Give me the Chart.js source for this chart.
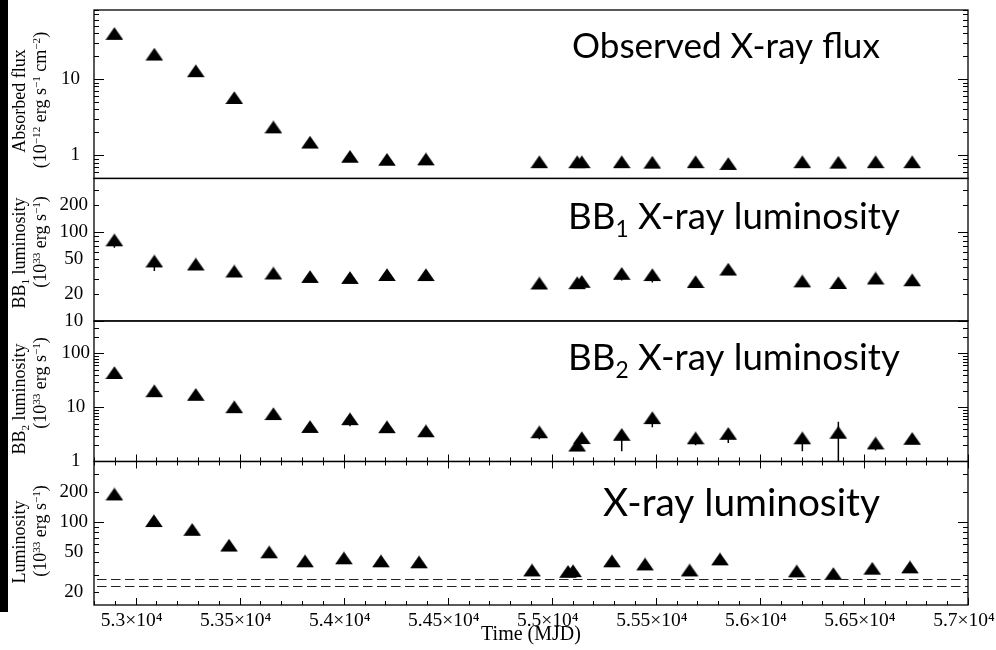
<!DOCTYPE html>
<html>
<head>
<meta charset="utf-8">
<script src="https://cdn.jsdelivr.net/npm/chart.js@4/dist/chart.umd.min.js"></script>
<style>
  html, body { margin: 0; padding: 0; background: #fff; overflow: hidden; }
  canvas { display: block; }
</style>
</head>
<body>
<canvas id="c" width="996" height="650"></canvas>
<script>
// Observation epochs (MJD) of the spectral fits
const epochs = [52898, 53090, 53289, 53474, 53662, 53838, 54030, 54208, 54395, 54940,
                55122, 55144, 55336, 55483, 55691, 55848, 56204, 56377, 56556, 56732];
// Epochs used for the total luminosity curve
const lumEpochs = [52898, 53088, 53272, 53449, 53642, 53814, 54001, 54179, 54362, 54905,
                   55078, 55102, 55289, 55448, 55662, 55808, 56177, 56353, 56540, 56721];

// Absorbed flux, 1e-12 erg/s/cm^2
const absorbedFlux = [37.3, 20.0, 12.1, 5.4, 2.23, 1.41, 0.92, 0.84, 0.85, 0.78,
                      0.78, 0.78, 0.78, 0.77, 0.78, 0.74, 0.78, 0.77, 0.78, 0.78];
// Blackbody 1 luminosity, 1e33 erg/s
const bb1Lum = [77.6, 44.9, 41.5, 34.6, 32.9, 30.1, 29.3, 31.6, 31.6, 25.4,
                25.6, 26.5, 32.6, 31.6, 26.4, 36.4, 26.8, 25.7, 28.9, 27.6];
const bb1Low = [66.7, 36.5, null, null, null, null, null, null, null, null,
                null, null, 28.5, 27.0, null, null, null, null, null, null];
// Blackbody 2 luminosity, 1e33 erg/s
const bb2Lum = [40.8, 18.8, 16.1, 9.5, 7.1, 4.1, 5.7, 4.05, 3.41, 3.27,
                1.85, 2.55, 2.93, 5.97, 2.52, 3.06, 2.52, 3.2, 2.03, 2.47];
const bb2Low = [null, null, null, null, null, null, 4.5, null, null, 2.58,
                null, null, 1.54, 4.32, 1.99, 2.2, 1.54, 0.5, 1.6, null];
const bb2High = [null, null, null, null, null, null, null, null, null, null,
                 null, null, null, null, null, null, null, 5.43, null, null];
// Total X-ray luminosity, 1e33 erg/s
const xrayLum = [182, 99, 81, 56.5, 48.4, 39.4, 42.2, 39.4, 38.5, 32,
                 31, 31.5, 39.4, 36.7, 32, 41.2, 31.3, 29.5, 33.3, 34.3];
// Reference luminosity levels (dashed)
const lumLevels = [27, 23];

// Axis ticks
const timeTicks = [53000, 53500, 54000, 54500, 55000, 55500, 56000, 56500, 57000];
const timeTickLabels = ['5.3×10⁴', '5.35×10⁴', '5.4×10⁴', '5.45×10⁴', '5.5×10⁴',
                        '5.55×10⁴', '5.6×10⁴', '5.65×10⁴', '5.7×10⁴'];
const fluxTicks = [1, 10];
const bb1Ticks = [10, 20, 50, 100, 200];
const bb2Ticks = [1, 10, 100];
const lumTicks = [20, 50, 100, 200];

const SERIF = '"Liberation Serif", "Times New Roman", serif';
const SANS = 'Lato, "Open Sans", sans-serif';

// filled triangle marker, centroid at the image centre
function triangleMarker() {
  const c = document.createElement('canvas');
  c.width = 18; c.height = 17;
  const g = c.getContext('2d');
  g.fillStyle = '#000';
  g.beginPath();
  g.moveTo(9, 0.3); g.lineTo(17.8, 13.0); g.lineTo(0.2, 13.0);
  g.closePath(); g.fill();
  return c;
}
const marker = triangleMarker();

function pts(xs, ys) { return xs.map((x, i) => ({ x: x, y: ys[i] })); }

// text with super/subscripts: parts = [text, mode] (1 = sup, -1 = sub)
function richWidth(ctx, parts, size, family) {
  let w = 0;
  for (const [t, m] of parts) {
    ctx.font = (m ? size * 0.62 : size) + 'px ' + family;
    w += ctx.measureText(t).width;
  }
  return w;
}
function drawRich(ctx, parts, x, y, size, family) {
  let cx = x;
  for (const [t, m] of parts) {
    const s = m ? size * 0.62 : size;
    ctx.font = s + 'px ' + family;
    const dy = m === 1 ? -size * 0.36 : (m === -1 ? size * 0.22 : 0);
    ctx.fillText(t, cx, y + dy);
    cx += ctx.measureText(t).width;
  }
}

const unitsLum = [['(10', 0], ['33', 1], [' erg s', 0], ['−1', 1], [')', 0]];
const axisTitles = [
  { axis: 'yFlux', lines: [[['Absorbed flux', 0]],
      [['(10', 0], ['−12', 1], [' erg s', 0], ['−1', 1], [' cm', 0], ['−2', 1], [')', 0]]], cy: [101, 100] },
  { axis: 'yBB1', lines: [[['BB', 0], ['1', -1], [' luminosity', 0]], unitsLum], cy: [253, 242] },
  { axis: 'yBB2', lines: [[['BB', 0], ['2', -1], [' luminosity', 0]], unitsLum], cy: [399, 383] },
  { axis: 'yLum', lines: [[['Luminosity', 0]], unitsLum], cy: [542, 531] }
];
const panelTitles = [
  { parts: [['Observed X-ray flux', 0]], left: 572, width: 308, base: 58 },
  { parts: [['BB', 0], ['1', -1], [' X-ray luminosity', 0]], left: 568, width: 332, base: 229 },
  { parts: [['BB', 0], ['2', -1], [' X-ray luminosity', 0]], left: 568, width: 332, base: 370 },
  { parts: [['X-ray luminosity', 0]], left: 603, width: 277, base: 516 }
];
const panelIds = ['yFlux', 'yBB1', 'yBB2', 'yLum'];

const decor = {
  id: 'decor',
  beforeDraw(chart) {
    const ctx = chart.ctx;
    ctx.save();
    ctx.fillStyle = '#fff';
    ctx.fillRect(0, 0, chart.width, chart.height);
    ctx.fillStyle = '#000';
    ctx.fillRect(0, 0, 8, 612);
    ctx.restore();
  },
  beforeDatasetsDraw(chart) {
    // error bars
    const ctx = chart.ctx, xs = chart.scales.x;
    const bars = [
      { s: chart.scales.yBB1, lo: bb1Low, hi: null, val: bb1Lum },
      { s: chart.scales.yBB2, lo: bb2Low, hi: bb2High, val: bb2Lum }
    ];
    ctx.save();
    ctx.strokeStyle = '#000';
    ctx.lineWidth = 1.5;
    for (const b of bars) {
      ctx.save();
      ctx.beginPath();
      ctx.rect(xs.left, b.s.top, xs.right - xs.left, b.s.bottom - b.s.top);
      ctx.clip();
      epochs.forEach((t, i) => {
        const px = xs.getPixelForValue(t);
        const y0 = b.s.getPixelForValue(b.val[i]);
        ctx.beginPath();
        if (b.lo && b.lo[i] != null) { ctx.moveTo(px, y0); ctx.lineTo(px, b.s.getPixelForValue(b.lo[i])); }
        if (b.hi && b.hi[i] != null) { ctx.moveTo(px, y0); ctx.lineTo(px, b.s.getPixelForValue(b.hi[i])); }
        ctx.stroke();
      });
      ctx.restore();
    }
    ctx.restore();
  },
  afterDatasetsDraw(chart) {
    const ctx = chart.ctx, xs = chart.scales.x;
    ctx.save();
    // dashed reference levels
    const yl = chart.scales.yLum;
    ctx.strokeStyle = '#222';
    ctx.lineWidth = 1;
    ctx.setLineDash([9.5, 4.5]);
    for (const v of lumLevels) {
      const py = Math.round(yl.getPixelForValue(v)) + 0.5;
      ctx.beginPath(); ctx.moveTo(xs.left + 3, py); ctx.lineTo(xs.right, py); ctx.stroke();
    }
    ctx.setLineDash([]);

    // frames and log ticks on both sides
    ctx.strokeStyle = '#000';
    for (const id of panelIds) {
      const s = chart.scales[id];
      ctx.lineWidth = 1.3;
      ctx.strokeRect(xs.left, s.top, xs.right - xs.left, s.bottom - s.top);
      ctx.lineWidth = 1;
      const lo = Math.floor(Math.log10(s.min)), hi = Math.ceil(Math.log10(s.max));
      ctx.beginPath();
      for (let d = lo; d <= hi; d++) {
        for (let m = 1; m <= 9; m++) {
          const v = m * Math.pow(10, d);
          if (v < s.min * 0.999 || v > s.max * 1.001) continue;
          const py = Math.round(s.getPixelForValue(v)) + 0.5;
          const len = m === 1 ? 10 : 5;
          ctx.moveTo(xs.left, py); ctx.lineTo(xs.left + len, py);
          ctx.moveTo(xs.right, py); ctx.lineTo(xs.right - len, py);
        }
      }
      ctx.stroke();
    }

    // time ticks on the lower two panels
    const edges = [
      { y: chart.scales.yBB2.bottom, dir: -1 },
      { y: chart.scales.yLum.top, dir: 1 },
      { y: chart.scales.yLum.bottom, dir: -1 }
    ];
    ctx.beginPath();
    for (let t = xs.min; t <= xs.max; t += 100) {
      const px = Math.round(xs.getPixelForValue(t)) + 0.5;
      const len = t % 500 === 0 ? 7 : 4;
      for (const e of edges) { ctx.moveTo(px, e.y); ctx.lineTo(px, e.y + e.dir * len); }
    }
    ctx.stroke();

    // panel headings
    ctx.fillStyle = '#000';
    ctx.textAlign = 'left';
    ctx.textBaseline = 'alphabetic';
    for (const p of panelTitles) {
      const w0 = richWidth(ctx, p.parts, 34, SANS);
      const size = 34 * p.width / w0;
      drawRich(ctx, p.parts, p.left, p.base, size, SANS);
    }

    // rotated axis titles
    const baseX = [25, 46];
    for (const a of axisTitles) {
      a.lines.forEach((parts, k) => {
        const w = richWidth(ctx, parts, 18, SERIF);
        ctx.save();
        ctx.translate(baseX[k], a.cy[k]);
        ctx.rotate(-Math.PI / 2);
        drawRich(ctx, parts, -w / 2, 0, 18, SERIF);
        ctx.restore();
      });
    }
    ctx.restore();
  }
};

function yAxis(min, max, ticks, weight, stackWeight, align, pad) {
  return {
    type: 'logarithmic',
    position: 'left',
    stack: 'panels',
    stackWeight: stackWeight,
    weight: weight,
    min: min,
    max: max,
    grid: { display: false, drawTicks: false, tickLength: 0 },
    border: { display: false },
    afterBuildTicks: s => { s.ticks = ticks.map(v => ({ value: v })); },
    afterFit: s => { s.width = 94; s.paddingTop = 0; s.paddingBottom = 0; },
    ticks: {
      autoSkip: false,
      crossAlign: align,
      padding: pad,
      color: '#000',
      font: { family: SERIF, size: 19 },
      callback: v => String(v)
    }
  };
}

const common = {
  pointStyle: marker,
  pointRadius: 9,
  pointHoverRadius: 9,
  showLine: false,
  backgroundColor: '#000',
  borderColor: '#000'
};

new Chart(document.getElementById('c'), {
  type: 'scatter',
  data: {
    datasets: [
      Object.assign({ label: 'Absorbed flux', data: pts(epochs, absorbedFlux), yAxisID: 'yFlux' }, common),
      Object.assign({ label: 'BB1 luminosity', data: pts(epochs, bb1Lum), yAxisID: 'yBB1' }, common),
      Object.assign({ label: 'BB2 luminosity', data: pts(epochs, bb2Lum), yAxisID: 'yBB2' }, common),
      Object.assign({ label: 'Luminosity', data: pts(lumEpochs, xrayLum), yAxisID: 'yLum' }, common)
    ]
  },
  options: {
    responsive: false,
    devicePixelRatio: 1,
    animation: false,
    events: [],
    layout: { padding: { left: 0, right: 28, top: 8, bottom: 0 } },
    plugins: { legend: { display: false }, tooltip: { enabled: false } },
    scales: {
      x: {
        type: 'linear',
        position: 'bottom',
        min: 52800,
        max: 57000,
        grid: { display: false, drawTicks: false, tickLength: 0 },
        border: { display: false },
        afterBuildTicks: s => { s.ticks = timeTicks.map(v => ({ value: v })); },
        afterFit: s => { s.height = 45; s.paddingLeft = 0; s.paddingRight = 0; },
        ticks: {
          autoSkip: false,
          maxRotation: 0,
          padding: 4,
          labelOffset: -4,
          color: '#000',
          font: { family: SERIF, size: 19.5 },
          callback: (v, i) => timeTickLabels[i]
        },
        title: {
          display: true,
          text: 'Time (MJD)',
          color: '#000',
          font: { family: SERIF, size: 20 },
          padding: { top: 0, bottom: 3 }
        }
      },
      yFlux: yAxis(0.5, 80, fluxTicks, 4, 169, 'near', 14),
      yBB1: yAxis(10, 400, bb1Ticks, 3, 143, 'center', 6),
      yBB2: yAxis(1, 400, bb2Ticks, 2, 141, 'center', 4),
      yLum: yAxis(15, 400, lumTicks, 1, 144, 'center', 6)
    }
  },
  plugins: [decor]
});
</script>
</body>
</html>
